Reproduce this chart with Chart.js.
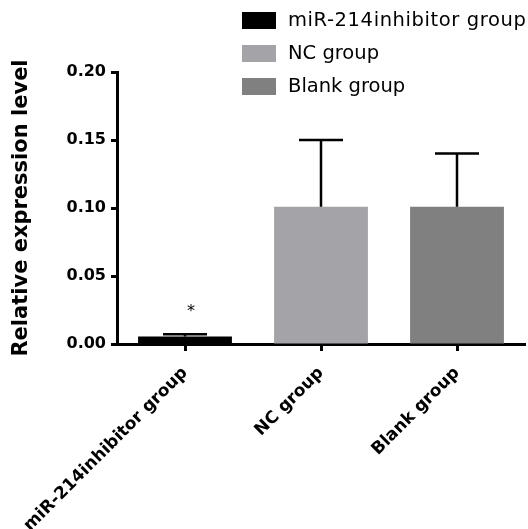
<!DOCTYPE html>
<html>
<head>
<meta charset="utf-8">
<script src="https://cdn.jsdelivr.net/npm/chart.js@4"></script>
<style>
  html, body { margin: 0; padding: 0; background: #fff; }
  #wrap { width: 528px; height: 529px; position: relative; }
</style>
</head>
<body>
<div id="wrap"><canvas id="chart"></canvas></div>
<script>
// data
const groups = ['miR-214inhibitor group', 'NC group', 'Blank group'];
const means = [0.0055, 0.101, 0.101];
const errUpper = [0.0072, 0.150, 0.140];
const barColors = ['#000000', '#a4a3a7', '#808080'];
const yTicks = [0, 0.05, 0.10, 0.15, 0.20];
const starMarks = ['*', '', ''];

const FONT = '"DejaVu Sans", sans-serif';

// error bars (upper only) + significance star
const errorBars = {
  id: 'errorBars',
  afterDatasetsDraw(chart) {
    const { ctx, scales: { x, y } } = chart;
    ctx.save();
    ctx.strokeStyle = '#000';
    ctx.lineWidth = 2.5;
    groups.forEach((g, i) => {
      const cx = x.getPixelForValue(i);
      const top = y.getPixelForValue(errUpper[i]);
      const base = y.getPixelForValue(means[i]);
      ctx.beginPath();
      ctx.moveTo(cx, base);
      ctx.lineTo(cx, top);
      ctx.moveTo(cx - 22, top);
      ctx.lineTo(cx + 22, top);
      ctx.stroke();
      if (starMarks[i]) {
        ctx.fillStyle = '#000';
        ctx.font = '16px ' + FONT;
        ctx.textAlign = 'center';
        ctx.textBaseline = 'middle';
        ctx.fillText(starMarks[i], cx + 6, y.getPixelForValue(0.024));
      }
    });
    ctx.restore();
  }
};

// legend block at the top right
const sideLegend = {
  id: 'sideLegend',
  afterDraw(chart) {
    const { ctx } = chart;
    ctx.save();
    ctx.font = '19.5px ' + FONT;
    ctx.textBaseline = 'middle';
    ctx.textAlign = 'left';
    groups.forEach((g, i) => {
      const yy = 20.5 + i * 33;
      ctx.fillStyle = barColors[i];
      ctx.fillRect(242, yy - 8.5, 34, 17);
      ctx.fillStyle = '#000';
      ctx.letterSpacing = i === 0 ? '0.6px' : '0px';
      ctx.fillText(g, 288, yy);
    });
    ctx.restore();
  }
};

new Chart(document.getElementById('chart'), {
  type: 'bar',
  data: {
    labels: groups,
    datasets: [{
      data: means,
      backgroundColor: barColors,
      borderWidth: 0,
      barPercentage: 0.69,
      categoryPercentage: 1
    }]
  },
  options: {
    responsive: true,
    maintainAspectRatio: false,
    animation: false,
    layout: { padding: { top: 72, right: 3, left: 0, bottom: 0 } },
    plugins: { legend: { display: false }, tooltip: { enabled: false } },
    scales: {
      x: {
        grid: { display: true, drawOnChartArea: false, offset: false, tickLength: 7, tickWidth: 3, tickColor: '#000' },
        border: { display: true, color: '#000', width: 3 },
        ticks: {
          color: '#000', maxRotation: 45, minRotation: 45, padding: 12,
          font: { family: FONT, size: 17, weight: 'bold' }
        },
        afterFit(s) { s.height = 185; s.paddingLeft = 0; s.paddingRight = 0; }
      },
      y: {
        min: 0, max: 0.20,
        afterBuildTicks(s) { s.ticks = yTicks.map(v => ({ value: v })); },
        grid: { display: true, drawOnChartArea: false, tickLength: 6, tickWidth: 3, tickColor: '#000' },
        border: { display: true, color: '#000', width: 3 },
        ticks: {
          color: '#000', padding: 5,
          font: { family: FONT, size: 16, weight: 'bold' },
          callback: v => v.toFixed(2)
        },
        title: {
          display: true, text: 'Relative expression level', color: '#000',
          font: { family: FONT, size: 21, weight: 'bold' }, padding: { top: 9, bottom: 6 }
        },
        afterFit(s) { s.width = 117; }
      }
    }
  },
  plugins: [errorBars, sideLegend]
});
</script>
</body>
</html>
